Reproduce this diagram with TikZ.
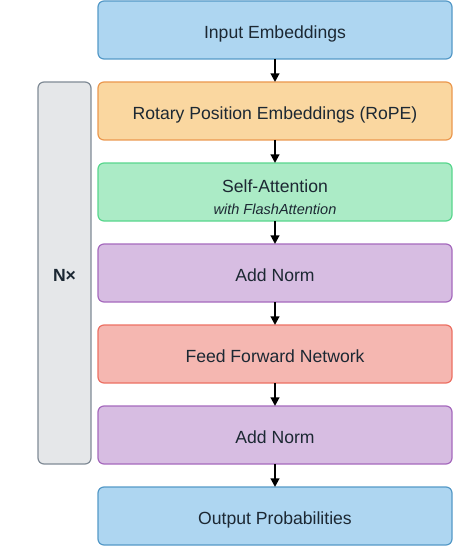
\documentclass[tikz,border=0pt]{standalone}
\usepackage{fontspec}
\setmainfont{Liberation Sans}
\usetikzlibrary{positioning,arrows.meta}

\definecolor{inputfill}{HTML}{AED6F1}
\definecolor{inputline}{HTML}{5499C7}
\definecolor{ropefill}{HTML}{FAD7A0}
\definecolor{ropeline}{HTML}{EB984E}
\definecolor{attnfill}{HTML}{ABEBC6}
\definecolor{attnline}{HTML}{58D68D}
\definecolor{normfill}{HTML}{D7BDE2}
\definecolor{normline}{HTML}{A569BD}
\definecolor{ffnfill}{HTML}{F5B7B1}
\definecolor{ffnline}{HTML}{EC7063}
\definecolor{loopfill}{HTML}{E5E7E9}
\definecolor{loopline}{HTML}{808B96}
\definecolor{textdark}{HTML}{1C2833}

\tikzset{
  layer/.style={draw, rounded corners=4.5pt, line width=0.9pt, inner sep=0pt, outer sep=0pt,
    minimum width=265.5pt, minimum height=43.5pt, align=center, text=textdark,
    text height=12.5pt, text depth=0pt, font=\fontsize{13.2}{16.5}\selectfont},
  flow/.style={-{Triangle[length=6.5pt,width=6.5pt]}, line width=1.5pt},
}

\begin{document}
\begin{tikzpicture}[x=0.75pt,y=-0.75pt,node distance=17.25pt]
  \useasboundingbox (0,0) rectangle (455,549);
  \node[layer, fill=inputfill, draw=inputline] (input) at (275,30) {Input Embeddings};
  \node[layer, fill=ropefill, draw=ropeline, below=of input] (rope) {Rotary Position Embeddings (RoPE)};
  \node[layer, fill=attnfill, draw=attnline, below=of rope, text height=33pt] (attn)
    {Self-Attention\\[0pt]{\fontsize{10.9}{13}\selectfont\itshape with FlashAttention}};
  \node[layer, fill=normfill, draw=normline, below=of attn] (normone) {Add Norm};
  \node[layer, fill=ffnfill, draw=ffnline, below=of normone] (ffn) {Feed Forward Network};
  \node[layer, fill=normfill, draw=normline, below=of ffn] (normtwo) {Add Norm};
  \node[layer, fill=inputfill, draw=inputline, below=of normtwo] (output) {Output Probabilities};

  % repeated block
  \node[layer, fill=loopfill, draw=loopline, minimum width=39.75pt, minimum height=286.5pt,
    left=5.25pt of normone, font=\fontsize{13.2}{16.5}\selectfont\bfseries] (loop) {N×};

  \draw[flow] (input) -- (rope);
  \draw[flow] (rope) -- (attn);
  \draw[flow] (attn) -- (normone);
  \draw[flow] (normone) -- (ffn);
  \draw[flow] (ffn) -- (normtwo);
  \draw[flow] (normtwo) -- (output);
\end{tikzpicture}
\end{document}
